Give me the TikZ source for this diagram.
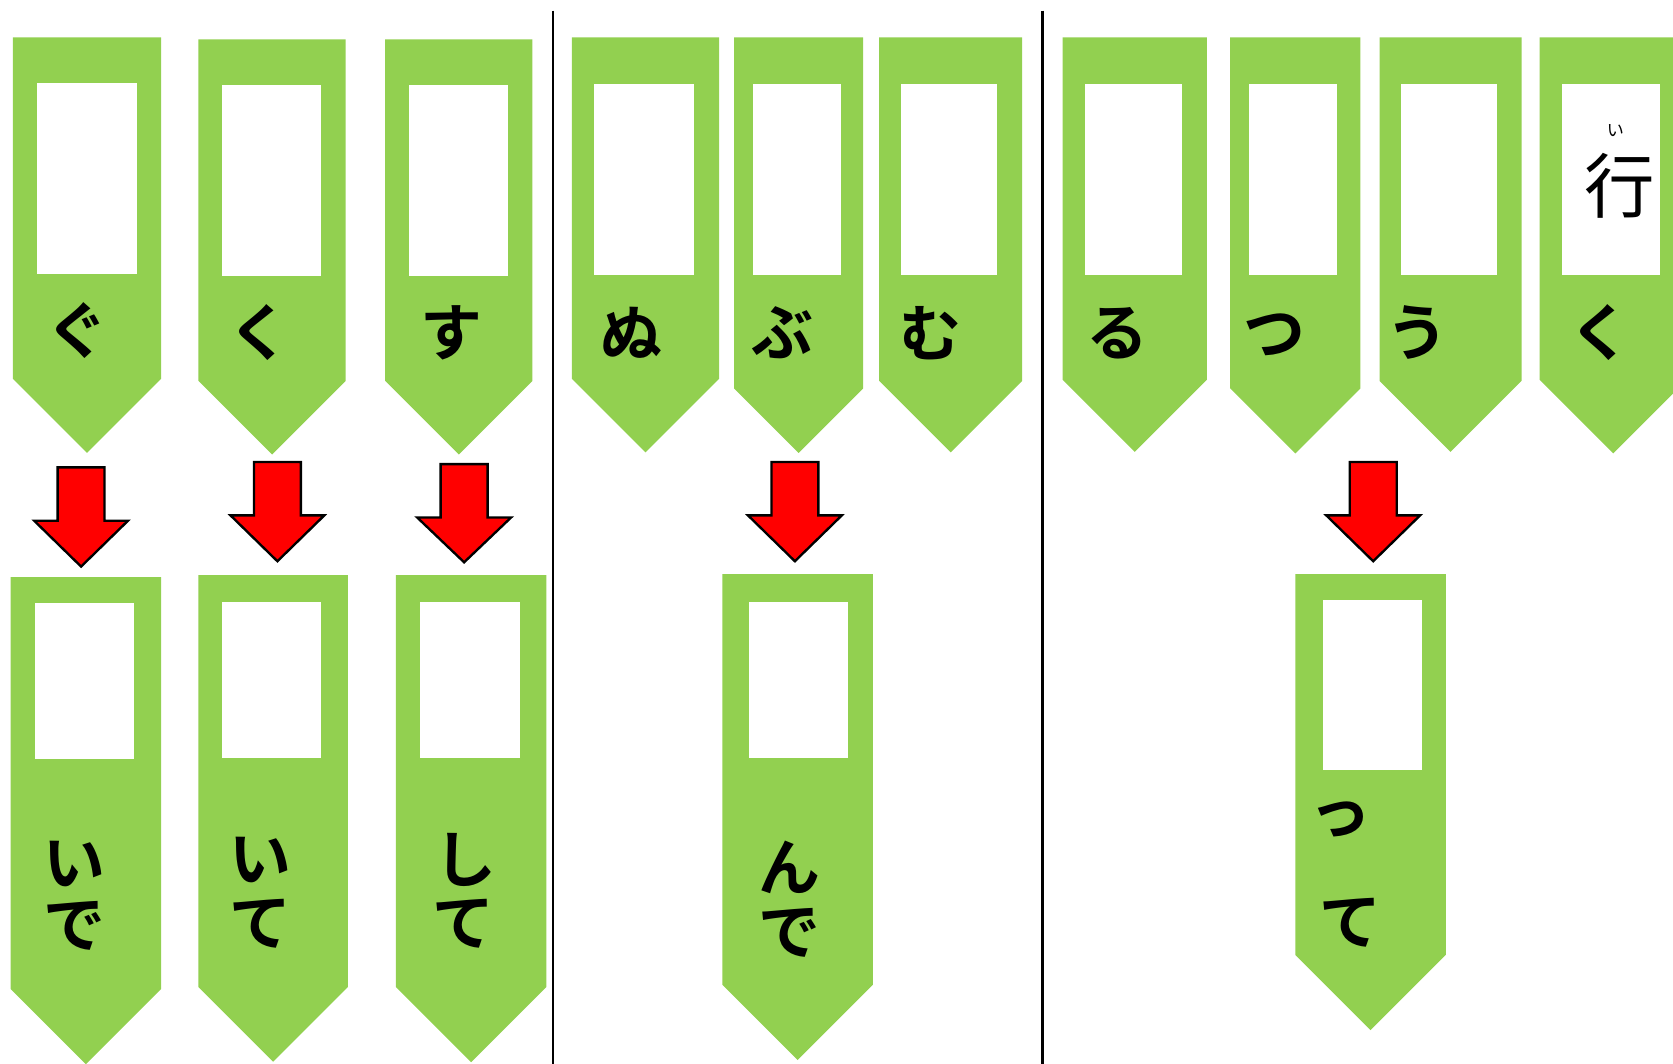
\documentclass[tikz,border=0pt]{standalone}
\usepackage{fontspec}
\usepackage{tikz}
\newfontfamily\jpbold{Noto Sans CJK JP Bold}
\newfontfamily\jpthin{Noto Sans CJK JP}
\definecolor{bandgreen}{HTML}{92D050}
\usetikzlibrary{arrows}

\begin{document}
\begin{tikzpicture}[x=0.5pt,y=-0.5pt,semithick]
                \tikzstyle{band}=[fill=bandgreen,draw=none]
                \tikzstyle{slot}=[fill=white,draw=none]
                \tikzstyle{kana}=[font=\jpbold\fontsize{29}{32}\selectfont,inner sep=0pt]
                \tikzstyle{down}=[fill=red,draw=black,line width=1.1pt,line join=miter]
                \tikzstyle{divider}=[draw=black,line width=1pt]

                \useasboundingbox (0,0) rectangle (1568,997);

                % banners: left/right/top/side end, then the white slot
                \foreach \l/\r/\t/\s/\wl/\wr/\wt/\wb in {
                        12/151/35/355/35/128/78/257,   186/324/37/357/208/301/80/259,
                        361/499/37/357/383/476/80/259, 536/674/35/355/557/650/79/258,
                        688/809/35/364/706/788/79/258, 824/958/35/357/844/934/79/258,
                        996/1131/35/356/1017/1108/79/258, 1153/1275/35/364/1171/1253/79/258,
                        1293/1426/35/357/1313/1403/79/258, 1443/1581/35/356/1464/1556/79/258,
                        10/151/541/927/33/126/565/711, 186/326/539/925/208/301/564/710,
                        371/512/539/925/394/487/564/710, 677/818/538/923/702/795/564/710,
                        1214/1355/538/895/1240/1333/562/722}
                {
                        \fill[band] (\l,\t) -- (\r,\t) -- (\r,\s)
                                -- ({(\l+\r)/2},{\s+(\r-\l)/2}) -- (\l,\s) -- cycle;
                        \fill[slot] (\wl,\wt) rectangle (\wr,\wb);
                }

                % red arrows: centre/top/shoulder/tip
                \foreach \c/\t/\m/\e in {76/438/488/531, 260/433/483/526, 435/435/485/527,
                                         745/433/483/526, 1287/433/483/526}
                        \draw[down] (\c-22,\t) -- (\c+22,\t) -- (\c+22,\m) -- (\c+44,\m)
                                -- (\c,\e) -- (\c-44,\m) -- (\c-22,\m) -- cycle;

                \draw[divider] (518,10) -- (518,997);
                \draw[divider] (977,10) -- (977,997);

                % top row
                \node[kana] (gu)  at (73,310)   {ぐ};
                \node[kana] (ku)  at (243,312)  {く};
                \node[kana] (su)  at (423,312)  {す};
                \node[kana] (nu)  at (592,312)  {ぬ};
                \node[kana] (bu)  at (733,312)  {ぶ};
                \node[kana] (mu)  at (872,312)  {む};
                \node[kana] (ru)  at (1047,312) {る};
                \node[kana] (tsu) at (1194,314) {つ};
                \node[kana] (u)   at (1328,312) {う};
                \node[kana] (ku2) at (1500,312) {く};

                \node[font=\jpthin\fontsize{33}{36}\selectfont,inner sep=0pt] (iku) at (1518,174) {行};
                \node[font=\jpthin\fontsize{8}{9}\selectfont,inner sep=0pt]   (i)   at (1514,122) {い};

                % bottom row
                \node[kana] (ide1) at (70,810)   {い};
                \node[kana] (ide2) at (70,868)   {で};
                \node[kana] (ite1) at (244,806)  {い};
                \node[kana] (ite2) at (244,866)  {て};
                \node[kana] (shi1) at (436,806)  {し};
                \node[kana] (shi2) at (434,866)  {て};
                \node[kana] (nde1) at (740,813)  {ん};
                \node[kana] (nde2) at (740,874)  {で};
                \node[kana] (tte1) at (1256,768) {っ};
                \node[kana] (tte2) at (1266,865) {て};
            \end{tikzpicture}
\end{document}
